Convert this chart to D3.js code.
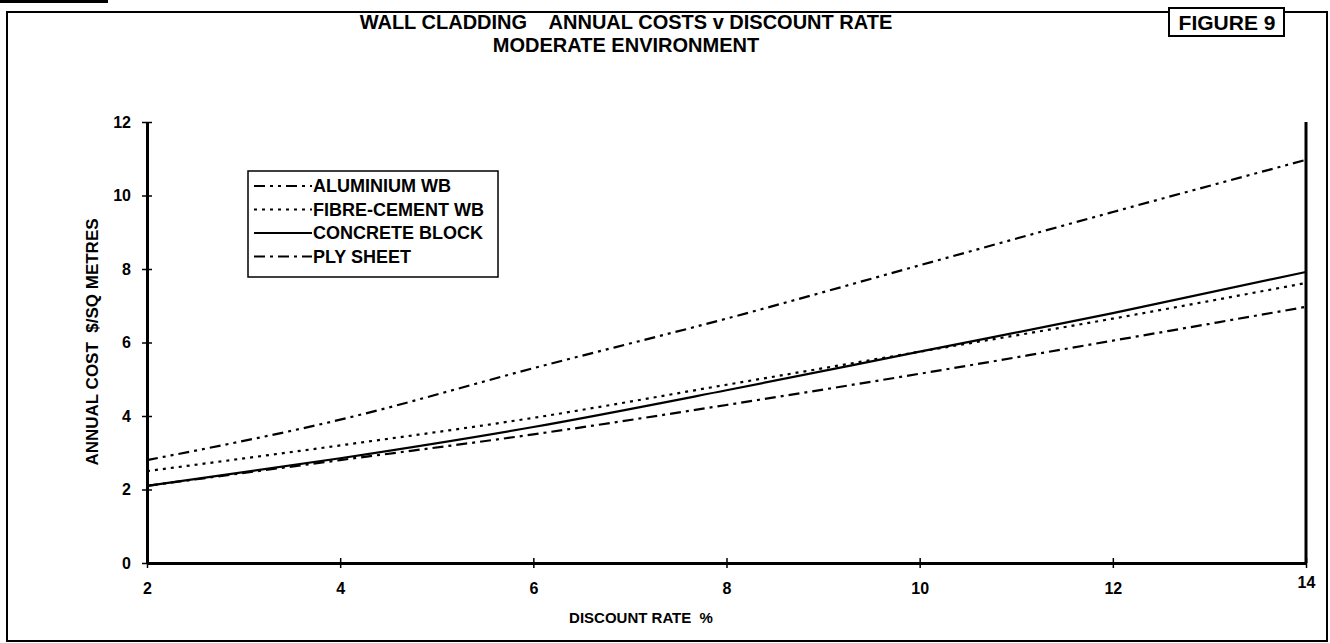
<!DOCTYPE html>
<html>
<head>
<meta charset="utf-8">
<script src="https://cdn.jsdelivr.net/npm/d3@7"></script>
<style>
  body { margin: 0; background: #fff; }
  svg text { font-family: "Liberation Sans", Arial, sans-serif; font-weight: bold; fill: #000; }
</style>
</head>
<body>
<svg width="1330" height="643"></svg>
<script>
(function() {
    'use strict';

    // discount rate (%) along x
    var rates = [2, 4, 6, 8, 10, 12, 14];

    // annual cost $/sq metre
    var aluminium = [2.8, 3.9, 5.3, 6.65, 8.1, 9.55, 10.97];
    var fibreCement = [2.5, 3.2, 3.95, 4.85, 5.75, 6.65, 7.62];
    var concrete = [2.1, 2.85, 3.7, 4.7, 5.75, 6.8, 7.92];
    var ply = [2.1, 2.8, 3.5, 4.3, 5.15, 6.05, 6.97];

    var seriesNames = ["ALUMINIUM WB", "FIBRE-CEMENT WB", "CONCRETE BLOCK", "PLY SHEET"];
    var xTicks = [2, 4, 6, 8, 10, 12, 14];
    var yTicks = [0, 2, 4, 6, 8, 10, 12];

    var series = [
        { name: seriesNames[0], values: aluminium, dash: "11,5,3,5,3,5" },
        { name: seriesNames[1], values: fibreCement, dash: "3,5" },
        { name: seriesNames[2], values: concrete, dash: null },
        { name: seriesNames[3], values: ply, dash: "11,5,3,5" }
    ];

    var svg = d3.select("svg");

    // scan artefacts: black bar top left + page frame
    svg.append("rect").attr("x", 0).attr("y", 0).attr("width", 108).attr("height", 3).attr("fill", "#000");
    svg.append("rect")
        .attr("x", 7).attr("y", 12).attr("width", 1320).attr("height", 629)
        .attr("fill", "none").attr("stroke", "#000").attr("stroke-width", 2);

    var x = d3.scaleLinear().domain([2, 14]).range([147, 1306]);
    var y = d3.scaleLinear().domain([0, 12]).range([563, 122]);

    // titles
    svg.append("text").attr("x", 626).attr("y", 29).attr("text-anchor", "middle")
        .style("font-size", "20px").style("white-space", "pre").attr("xml:space", "preserve")
        .text("WALL CLADDING    ANNUAL COSTS v DISCOUNT RATE");
    svg.append("text").attr("x", 626).attr("y", 52).attr("text-anchor", "middle")
        .style("font-size", "20px")
        .text("MODERATE ENVIRONMENT");

    var fig = svg.append("g");
    fig.append("rect").attr("x", 1169).attr("y", 8).attr("width", 115).attr("height", 28)
        .attr("fill", "#fff").attr("stroke", "#000").attr("stroke-width", 2);
    fig.append("text").attr("x", 1227).attr("y", 30).attr("text-anchor", "middle")
        .style("font-size", "21px").text("FIGURE 9");

    // axes
    var xAxis = d3.axisBottom(x).tickValues(xTicks).tickSizeInner(6).tickSizeOuter(0).tickPadding(14);
    var yAxis = d3.axisLeft(y).tickValues(yTicks).tickSizeInner(6).tickSizeOuter(0).tickPadding(10);

    var gx = svg.append("g").attr("transform", "translate(0," + y(0) + ")").call(xAxis);
    var gy = svg.append("g").attr("transform", "translate(" + x(2) + ",0)").call(yAxis);

    [gx, gy].forEach(function(g) {
        g.select(".domain").attr("stroke-width", 3);
        g.selectAll(".tick line").attr("stroke-width", 1.5);
        g.selectAll(".tick text").style("font-size", "16px").style("font-family", "Liberation Sans, Arial, sans-serif").style("font-weight", "bold");
    });
    // ticks cross the axis
    gx.selectAll(".tick line").attr("y1", -5).attr("y2", 5);
    gy.selectAll(".tick line").attr("x1", -5).attr("x2", 5);
    // last x label sits a little higher in the original
    gx.selectAll(".tick text").filter(function(d) { return d === 14; }).attr("y", 14);

    // right frame of plot area
    svg.append("line").attr("x1", x(14)).attr("x2", x(14)).attr("y1", y(12)).attr("y2", y(0))
        .attr("stroke", "#000").attr("stroke-width", 3);

    svg.append("text").attr("x", 641).attr("y", 623).attr("text-anchor", "middle")
        .style("font-size", "15px").style("white-space", "pre").attr("xml:space", "preserve")
        .text("DISCOUNT RATE  %");
    svg.append("text").attr("transform", "translate(98,342) rotate(-90)").attr("text-anchor", "middle")
        .style("font-size", "17px").style("white-space", "pre").attr("xml:space", "preserve")
        .text("ANNUAL COST  $/SQ METRES");

    // lines
    var line = d3.line()
        .x(function(d, i) { return x(rates[i]); })
        .y(function(d) { return y(d); })
        .curve(d3.curveMonotoneX);

    svg.selectAll("path.series")
        .data(series)
        .enter().append("path")
        .attr("class", "series")
        .attr("d", function(d) { return line(d.values); })
        .attr("fill", "none")
        .attr("stroke", "#000")
        .attr("stroke-width", 2.2)
        .attr("stroke-dasharray", function(d) { return d.dash; });

    // legend
    var legend = svg.append("g").attr("transform", "translate(248,171)");
    legend.append("rect").attr("width", 250).attr("height", 106)
        .attr("fill", "#fff").attr("stroke", "#000").attr("stroke-width", 1.5);

    var item = legend.selectAll("g.item")
        .data(series)
        .enter().append("g")
        .attr("class", "item")
        .attr("transform", function(d, i) { return "translate(0," + (15 + i * 23.5) + ")"; });

    item.append("line")
        .attr("x1", 6).attr("x2", 64).attr("y1", 0).attr("y2", 0)
        .attr("stroke", "#000").attr("stroke-width", 2.2)
        .attr("stroke-dasharray", function(d) { return d.dash; });
    item.append("text")
        .attr("x", 65).attr("y", 6)
        .style("font-size", "18px")
        .text(function(d) { return d.name; });
})();
</script>
</body>
</html>
